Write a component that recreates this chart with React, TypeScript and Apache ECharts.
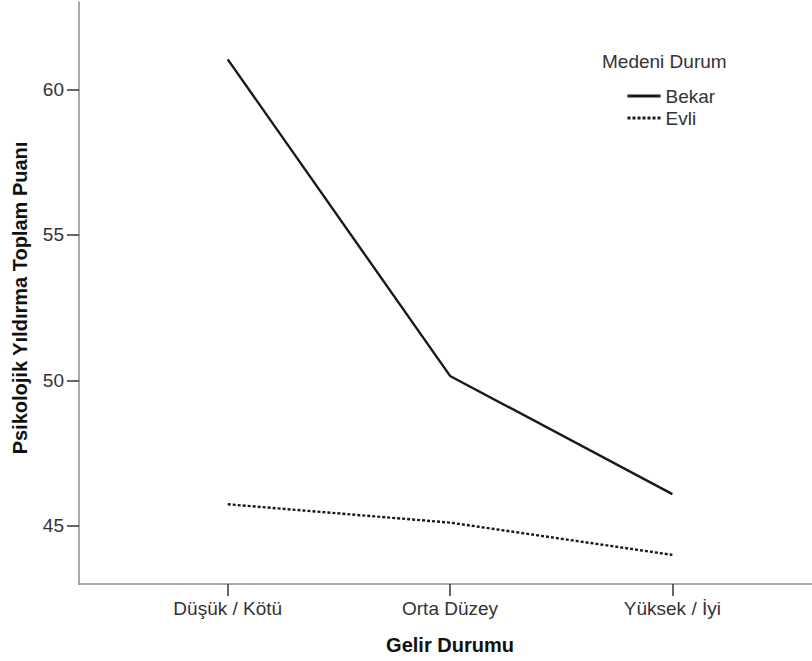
import React, { useEffect, useRef } from "react";
import * as echarts from "echarts";

const categories = ["Düşük / Kötü", "Orta Düzey", "Yüksek / İyi"];
const bekar = [61.03, 50.15, 46.09];
const evli = [45.74, 45.11, 44.0];
const yTicks = [45, 50, 55, 60];
const seriesNames = ["Bekar", "Evli"];
const legendTitle = "Medeni Durum";
const xTitle = "Gelir Durumu";
const yTitle = "Psikolojik Yıldırma Toplam Puanı";

const FONT = "'Liberation Sans', Arial, sans-serif";

export default function App() {
  const ref = useRef<HTMLDivElement>(null);
  useEffect(() => {
    if (!ref.current) return;
    const chart = echarts.init(ref.current, undefined, { renderer: "svg" });
    const xIdx = categories.map((_, i) => i);
    chart.setOption({
      animation: false,
      backgroundColor: "#ffffff",
      textStyle: { fontFamily: FONT },
      grid: { left: 79, right: 0, top: 2, bottom: 77, containLabel: false },
      xAxis: {
        type: "value",
        min: -0.669,
        max: 2.628,
        splitLine: { show: false },
        axisLine: { show: true, onZero: false, lineStyle: { color: "#8c8c8c", width: 1.5 } },
        axisTick: {
          show: true,
          customValues: xIdx,
          length: 12,
          lineStyle: { color: "#333", width: 1.5 },
        },
        axisLabel: {
          customValues: xIdx,
          margin: 15,
          color: "#333",
          fontSize: 19,
          fontFamily: FONT,
          formatter: (v: number) => categories[Math.round(v)] ?? "",
        },
      },
      yAxis: {
        type: "value",
        min: 43,
        max: 63,
        splitLine: { show: false },
        axisLine: { show: true, onZero: false, lineStyle: { color: "#8c8c8c", width: 1.5 } },
        axisTick: {
          show: true,
          customValues: yTicks,
          length: 12,
          lineStyle: { color: "#333", width: 1.5 },
        },
        axisLabel: {
          customValues: yTicks,
          margin: 15,
          color: "#333",
          fontSize: 19,
          fontFamily: FONT,
        },
      },
      legend: {
        orient: "vertical",
        left: 621,
        top: 80,
        itemWidth: 33,
        itemHeight: 14,
        itemGap: 0,
        data: seriesNames,
        itemStyle: { opacity: 0 },
        lineStyle: { width: 3 },
        textStyle: { color: "#333", fontSize: 19, fontFamily: FONT, lineHeight: 22 },
      },
      graphic: [
        {
          type: "text",
          left: 602,
          top: 52,
          style: { text: legendTitle, fill: "#333", font: `19px ${FONT}` },
        },
        {
          type: "text",
          x: 450,
          y: 645,
          style: {
            text: xTitle,
            fill: "#111",
            font: `bold 20px ${FONT}`,
            align: "center",
            verticalAlign: "middle",
          },
        },
        {
          type: "text",
          x: 20,
          y: 298,
          rotation: Math.PI / 2,
          style: {
            text: yTitle,
            fill: "#111",
            font: `bold 20px ${FONT}`,
            align: "center",
            verticalAlign: "middle",
          },
        },
      ],
      series: [
        {
          name: seriesNames[0],
          type: "line",
          symbol: "none",
          data: bekar.map((v, i) => [i, v]),
          lineStyle: { color: "#1a1a1a", width: 2.4, type: "solid" },
          itemStyle: { color: "#1a1a1a" },
        },
        {
          name: seriesNames[1],
          type: "line",
          symbol: "none",
          data: evli.map((v, i) => [i, v]),
          lineStyle: { color: "#1a1a1a", width: 2.4, type: [3, 2] },
          itemStyle: { color: "#1a1a1a" },
        },
      ],
    });
    return () => chart.dispose();
  }, []);
  return (
    <div
      ref={ref}
      style={{ position: "fixed", left: 0, top: 0, width: 812, height: 661, background: "#fff" }}
    />
  );
}
